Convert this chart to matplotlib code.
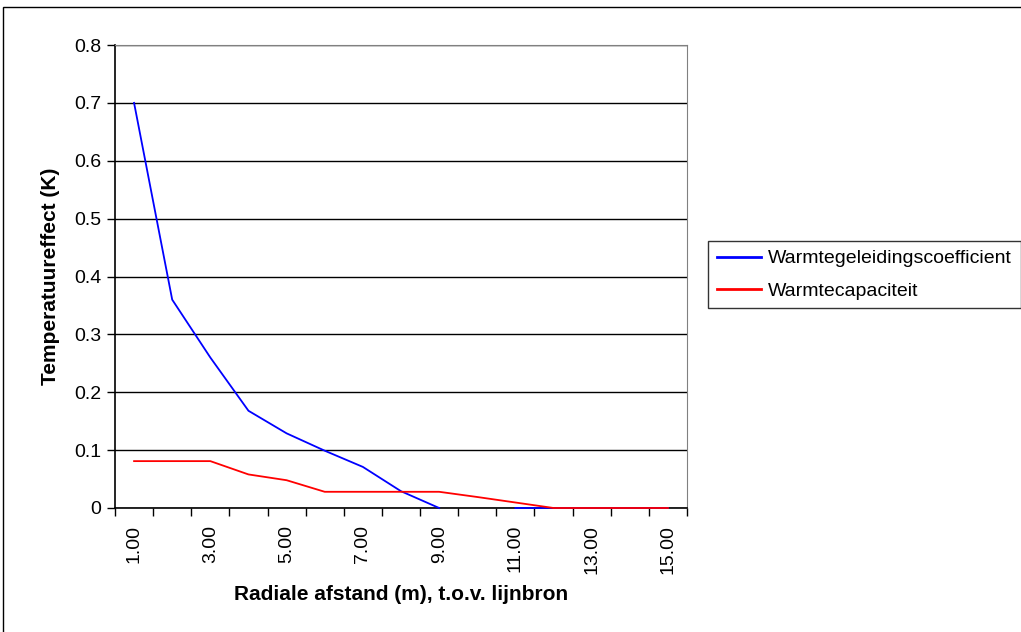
import numpy as np
import matplotlib
matplotlib.use('Agg')
from matplotlib import pyplot as plt
from matplotlib.patches import Rectangle

plt.rcParams['font.family'] = ['Liberation Sans', 'DejaVu Sans']

afstand = np.arange(1, 16)
geleiding = [0.70, 0.36, 0.26, 0.168, 0.129, 0.099, 0.071, 0.029, 0.0, np.nan,
             0.0, 0.0, 0.0, 0.0, 0.0]
capaciteit = [0.081, 0.081, 0.081, 0.058, 0.048, 0.028, 0.028, 0.028, 0.028, 0.019,
              0.0095, 0.0, 0.0, 0.0, 0.0]
tick_labels = ['%.2f' % v for v in afstand[::2]]

fig = plt.figure(figsize=(10.21, 6.32), dpi=100)
fig.patches.append(Rectangle((3 / 1021, -0.01), 1.1, 1 - 7 / 632 + 0.01,
                             transform=fig.transFigure, fill=False,
                             edgecolor='black', linewidth=1.0))

ax = fig.add_axes([115 / 1021, 1 - 508 / 632, 572 / 1021, 463 / 632])
ax.plot(afstand, geleiding, color='#0000ff', linewidth=1.3, zorder=3, clip_on=False,
        label='Warmtegeleidingscoefficient')
ax.plot(afstand, capaciteit, color='#ff0000', linewidth=1.3, zorder=3, clip_on=False,
        label='Warmtecapaciteit')

ax.set_xlim(0.5, 15.5)
ax.set_ylim(0, 0.8)
ax.set_yticks(np.arange(0, 0.81, 0.1))
ax.set_yticklabels(['0'] + ['%.1f' % v for v in np.arange(0.1, 0.81, 0.1)])
ax.yaxis.grid(True, color='black', linewidth=1.0)
ax.set_axisbelow(True)

ax.set_xticks(np.arange(0.5, 15.6, 1))
ax.set_xticklabels([])
ax.set_xticks(afstand[::2], minor=True)
ax.set_xticklabels(tick_labels, minor=True, rotation=90)
ax.tick_params(axis='x', which='minor', length=0, pad=12, labelsize=14)
ax.tick_params(axis='x', which='major', length=6, direction='out', width=1)
ax.tick_params(axis='y', length=6, direction='out', width=1, labelsize=14, pad=4)

for side in ['top', 'right']:
    ax.spines[side].set_color('#808080')
for side in ['left', 'bottom']:
    ax.spines[side].set_color('black')
    ax.spines[side].set_linewidth(1.2)

ax.set_xlabel('Radiale afstand (m), t.o.v. lijnbron', fontsize=15, fontweight='bold', labelpad=8)
ax.set_ylabel('Temperatuureffect (K)', fontsize=15, fontweight='bold', labelpad=10)

leg = fig.legend(loc='upper left', bbox_to_anchor=(708 / 1021, 1 - 241 / 632),
                 fontsize=14, frameon=True, fancybox=False, edgecolor='black',
                 handlelength=2.3, handletextpad=0.35, borderpad=0.45, labelspacing=0.75,
                 borderaxespad=0)
leg.get_frame().set_linewidth(1.0)
for h in leg.get_lines():
    h.set_linewidth(2)

fig.savefig('out.png', dpi=100)
